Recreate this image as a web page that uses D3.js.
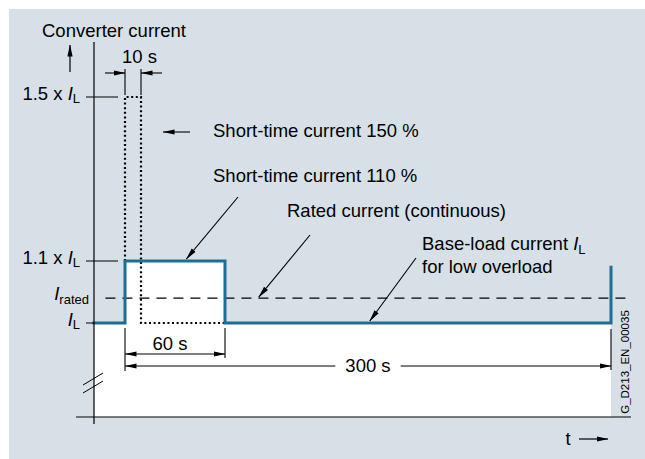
<!DOCTYPE html>
<html><head><meta charset="utf-8">
<script src="https://cdn.jsdelivr.net/npm/d3@7"></script>
<style>
html,body{margin:0;padding:0;background:#fff;}
svg{display:block;font-family:Arial,"Liberation Sans",Helvetica,sans-serif;}
</style></head><body>
<svg id="chart" width="645" height="459"></svg>
<script>
// Load cycle: time in seconds, current as a multiple of the base-load current I_L
const loadTime    = [-19, 0, 0, 60, 60, 300, 300];
const loadCurrent = [1.0, 1.0, 1.1, 1.1, 1.0, 1.0, 1.09];
// 150 % short-time pulse (dotted)
const peakTime    = [0, 0, 10, 10, 60];
const peakCurrent = [1.1, 1.5, 1.5, 1.0, 1.0];
// Rated (continuous) current and the time span of its line
const ratedCurrent = 1.04;
const ratedSpan = [-12, 313];
// Labelled levels on the current axis
const levelValues = [1.5, 1.1, 1.0];
const levelPrefix = ["1.5 x ", "1.1 x ", ""];
const levelSub    = ["L", "L", "L"];
// Dimensioned durations
const durations      = [10, 60, 300];
const durationLabels = ["10 s", "60 s", "300 s"];

const W = 645, H = 459;
const svg = d3.select("#chart");
const FS = 18.5;
const BLUE = "#1c6e97";
const BG = "#d6e0e6";

// Schematic axes (not to scale): piecewise-linear time and current scales
const x = d3.scaleLinear().domain([-19, 0, 10, 60, 300, 313]).range([94, 125, 141, 225, 611, 632]);
const y = d3.scaleLinear().domain([0, 1.0, 1.1, 1.5]).range([417, 323, 261, 97]);

const load = loadTime.map((t, i) => ({t, i: loadCurrent[i]}));
const peak = peakTime.map((t, i) => ({t, i: peakCurrent[i]}));

// arrowhead marker
const defs = svg.append("defs");
defs.append("marker").attr("id", "ah")
  .attr("markerUnits", "userSpaceOnUse")
  .attr("viewBox", "0 -3 12 6").attr("refX", 11.5).attr("refY", 0)
  .attr("markerWidth", 12).attr("markerHeight", 6)
  .attr("orient", "auto-start-reverse")
  .append("path").attr("d", "M0,-2.6L12,0L0,2.6Z").attr("fill", "#000");

// panel
svg.append("rect").attr("x", 9).attr("y", 9).attr("width", W - 9).attr("height", H - 9).attr("fill", BG);

// area under the load curve
svg.append("path").datum(load)
  .attr("d", d3.area().x(d => x(d.t)).y0(y(0)).y1(d => y(d.i)))
  .attr("fill", "#fff");

// rated current (dashed)
svg.append("line")
  .attr("x1", x(ratedSpan[0])).attr("x2", x(ratedSpan[1]))
  .attr("y1", y(ratedCurrent)).attr("y2", y(ratedCurrent))
  .attr("stroke", "#000").attr("stroke-width", 1.2).attr("stroke-dasharray", "10,7");

// 150 % pulse (dotted)
const line = d3.line().x(d => x(d.t)).y(d => y(d.i));
svg.append("path").datum(peak).attr("d", line)
  .attr("fill", "none").attr("stroke", "#000").attr("stroke-width", 2.2)
  .attr("stroke-dasharray", "2,2.6");

// load cycle
svg.append("path").datum(load).attr("d", line)
  .attr("fill", "none").attr("stroke", BLUE).attr("stroke-width", 3)
  .attr("stroke-linejoin", "miter").attr("stroke-linecap", "square");

// axes
const ax = svg.append("g").attr("stroke", "#000").attr("stroke-width", 1.2);
ax.append("line").attr("x1", x(-19)).attr("x2", x(-19)).attr("y1", 42).attr("y2", y(0) + 7);
ax.append("line").attr("x1", x(-19) - 18).attr("x2", x(313) - 1).attr("y1", y(0)).attr("y2", y(0));
// axis break
[0, 8].forEach(o => ax.append("line")
  .attr("x1", x(-19) - 11).attr("y1", 385 + o).attr("x2", x(-19) + 9).attr("y2", 373 + o)
  .attr("stroke-width", 1));

// level ticks and labels
levelValues.forEach((v, k) => {
  const yy = y(v);
  ax.append("line").attr("x1", x(-19) - 8).attr("x2", levelPrefix[k] ? x(-19) + 24 : x(-19))
    .attr("y1", yy).attr("y2", yy).attr("stroke-width", 1);
  const t = svg.append("text").attr("x", 80).attr("y", yy + 2.5)
    .attr("text-anchor", "end").attr("font-size", FS);
  t.append("tspan").text(levelPrefix[k]);
  t.append("tspan").attr("font-style", "italic").text("I");
  t.append("tspan").attr("font-size", 13).attr("dy", 3.5).text(levelSub[k]);
});
{
  const t = svg.append("text").attr("x", 89).attr("y", y(ratedCurrent) + 2)
    .attr("text-anchor", "end").attr("font-size", FS);
  t.append("tspan").attr("font-style", "italic").text("I");
  t.append("tspan").attr("font-size", 13).attr("dy", 4).text("rated");
}

// axis titles
svg.append("text").attr("x", 42).attr("y", 37).attr("font-size", FS).text("Converter current");
svg.append("line").attr("x1", 70).attr("x2", 70).attr("y1", 72).attr("y2", 45)
  .attr("stroke", "#000").attr("stroke-width", 1.2).attr("marker-end", "url(#ah)");
svg.append("text").attr("x", 568).attr("y", 445).attr("text-anchor", "middle").attr("font-size", FS).text("t");
svg.append("line").attr("x1", 579).attr("x2", 608).attr("y1", 439).attr("y2", 439)
  .attr("stroke", "#000").attr("stroke-width", 1.2).attr("marker-end", "url(#ah)");

// dimension helpers
const dim = svg.append("g").attr("stroke", "#000").attr("stroke-width", 1.1);
function ext(xx, y1, y2) {
  dim.append("line").attr("x1", xx).attr("x2", xx).attr("y1", y1).attr("y2", y2);
}
function arrow(x1, y1, x2, y2, both) {
  const l = dim.append("line").attr("x1", x1).attr("y1", y1).attr("x2", x2).attr("y2", y2)
    .attr("marker-end", "url(#ah)");
  if (both) l.attr("marker-start", "url(#ah)");
}

// 10 s
ext(x(0), 69, y(1.5) - 2); ext(x(durations[0]), 69, y(1.5) - 2);
arrow(x(0) - 20, 73, x(0), 73);
arrow(x(durations[0]) + 21, 73, x(durations[0]), 73);
svg.append("text").attr("x", x(0) - 3).attr("y", 63).attr("font-size", FS).text(durationLabels[0]);

// 60 s
ext(x(0), y(1.0) + 5, 371); ext(x(durations[1]), y(1.0) + 5, 358);
arrow(x(0), 354, x(durations[1]), 354, true);
svg.append("text").attr("x", (x(0) + x(durations[1])) / 2 - 5).attr("y", 350)
  .attr("text-anchor", "middle").attr("font-size", FS).text(durationLabels[1]);

// 300 s
ext(x(durations[2]), y(1.0) + 6, 370);
const mid = (x(0) + x(durations[2])) / 2;
const lbl = svg.append("text").attr("x", mid).attr("y", 372)
  .attr("text-anchor", "middle").attr("font-size", FS).text(durationLabels[2]);
const half = lbl.node().getComputedTextLength() / 2 + 10;
arrow(mid - half, 366, x(0), 366);
arrow(mid + half, 366, x(durations[2]), 366);

// annotations
const notes = svg.append("g").attr("font-size", FS);
notes.append("text").attr("x", 213).attr("y", 137).text("Short-time current 150 %");
arrow(190, 132, 163, 132);
notes.append("text").attr("x", 213).attr("y", 181.5).text("Short-time current 110 %");
arrow(238, 197, x(37), y(1.1) - 2);
notes.append("text").attr("x", 287).attr("y", 216.5).text("Rated current (continuous)");
arrow(310, 235, x(81), y(ratedCurrent) - 1);
{
  const t = notes.append("text").attr("x", 422).attr("y", 250);
  t.append("tspan").text("Base-load current ");
  t.append("tspan").attr("font-style", "italic").text("I");
  t.append("tspan").attr("font-size", 13).attr("dy", 3.5).text("L");
}
notes.append("text").attr("x", 422).attr("y", 272.5).text("for low overload");
arrow(416, 258, x(150), y(1.0) - 2);

// drawing number
svg.append("text").attr("transform", "translate(629,362) rotate(-90)")
  .attr("text-anchor", "middle").attr("font-size", 11.5).text("G_D213_EN_00035");
</script>
</body></html>
